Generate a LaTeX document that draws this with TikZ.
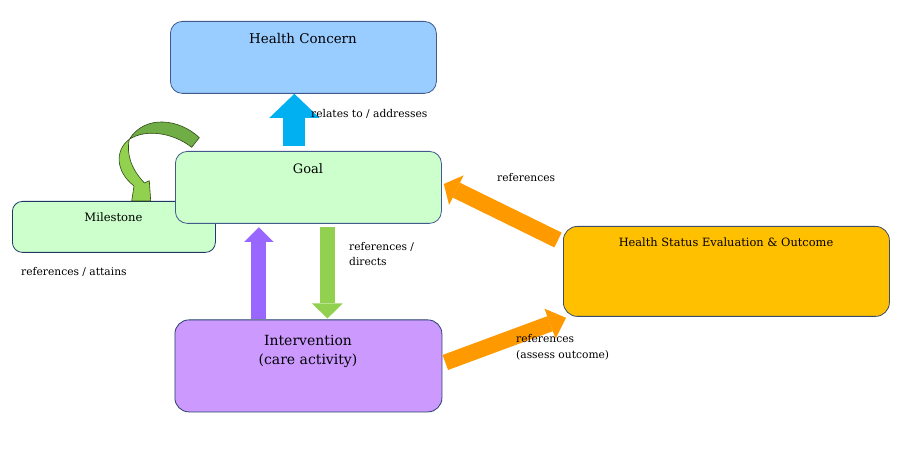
\documentclass[tikz,border=0pt]{standalone}
\usepackage{fontspec}
\setmainfont{DejaVu Serif}
\usetikzlibrary{arrows.meta,calc}
\definecolor{hcfill}{HTML}{99CCFF}
\definecolor{goalfill}{HTML}{CCFFCC}
\definecolor{intfill}{HTML}{CC99FF}
\definecolor{hsefill}{HTML}{FFC000}
\definecolor{boxline}{HTML}{41598B}
\definecolor{navy}{HTML}{1F3864}
\definecolor{arrblue}{HTML}{00B0F0}
\definecolor{arrgreen}{HTML}{92D050}
\definecolor{arrdkgreen}{HTML}{70AD47}
\definecolor{arrpurple}{HTML}{9966FF}
\definecolor{arrorange}{HTML}{FF9900}
\definecolor{curveline}{HTML}{2E4A14}
\begin{document}
\begin{tikzpicture}[x=1pt,y=-1pt,
  box/.style={draw=boxline, line width=0.8pt, rounded corners=12pt, anchor=north west, inner sep=0pt},
  boxtext/.style={anchor=base, inner sep=0pt, text=black},
  lbl/.style={inner sep=0pt, font=\fontsize{10.7}{15.3}\selectfont, text=black, align=left},
  bluearr/.style={draw=arrblue, line width=22pt, -{Triangle[width=50pt,length=24pt,line width=0pt]}},
  greenarr/.style={draw=arrgreen, line width=15.7pt, -{Triangle[width=30.6pt,length=15pt,line width=0pt]}},
  purparr/.style={draw=arrpurple, line width=15pt, -{Triangle[width=29.3pt,length=14.5pt,line width=0pt]}},
  orarrA/.style={draw=arrorange, line width=16.5pt, -{Triangle[width=33pt,length=14pt,line width=0pt]}},
  orarrB/.style={draw=arrorange, line width=16pt, -{Triangle[width=32pt,length=17pt,line width=0pt]}},
  curve/.style={draw=curveline, line width=0.6pt, line join=round}
  ]
\useasboundingbox[fill=white] (0,0) rectangle (900,454);

% boxes
\node[box, fill=hcfill, minimum width=266pt, minimum height=72pt] (hc) at (170,21) {};
\node[box, fill=goalfill, draw=navy, minimum width=203pt, minimum height=51pt, rounded corners=10pt] (ms) at (12,201) {};

% curved arrow Goal -> Milestone
\path[curve, fill=arrgreen] (129.3,139.3) .. controls (115,150) and (115,171) .. (134,186)
  -- (131.7,201) -- (150.7,201) -- (149.3,180.7) -- (144.5,183)
  .. controls (132,170) and (126,155) .. (129.3,139.3) -- cycle;
\path[curve, fill=arrdkgreen] (199.3,137.7) .. controls (180,119) and (145,114) .. (129.3,139.3)
  .. controls (145,129) and (172,132) .. (191.7,147.3) -- cycle;

\node[box, fill=goalfill, minimum width=266pt, minimum height=72pt] (goal) at (175,151) {};
\node[box, fill=intfill, draw=navy!80!boxline, minimum width=267pt, minimum height=92pt, rounded corners=14pt] (int) at (174.5,319.5) {};
\node[box, fill=hsefill, draw=navy!70!gray, minimum width=326pt, minimum height=90pt, rounded corners=14pt] (hse) at (563,226) {};

% box texts
\node[boxtext, font=\fontsize{13.4}{16}\selectfont] (hct) at (303,44) {Health Concern};
\node[boxtext, font=\fontsize{13}{16}\selectfont] (goalt) at (308,174) {Goal};
\node[boxtext, font=\fontsize{11.6}{14}\selectfont] (mst) at (113.5,221.7) {Milestone};
\node[boxtext, font=\fontsize{11.4}{14}\selectfont] (hset) at (726,246.7) {Health Status Evaluation \& Outcome};
\node[boxtext, font=\fontsize{14}{18.6}\selectfont] (intt1) at (308,345.7) {Intervention};
\node[boxtext, font=\fontsize{14}{18.6}\selectfont] (intt2) at (308,364.3) {(care activity)};

% block arrows
\draw[bluearr] ([xshift=-14pt,yshift=5pt]goal.north) -- ([xshift=-9pt]hc.south);
\draw[greenarr] ([xshift=19pt,yshift=-3.5pt]goal.south) -- ([xshift=19pt,yshift=1pt]int.north);
\draw[purparr] ([xshift=-49.5pt]int.north) -- ([xshift=-49.5pt,yshift=-3.5pt]goal.south);
\draw[orarrA] ($(hse.north west)+(-5,14)$) -- ($(goal.north east)+(2,33)$);
\draw[orarrB] ($(int.north east)+(3,43)$) -- ($(hse.south west)+(3,1)$);

% labels
\node[lbl, anchor=base west] (l1) at (311,118) {relates to / addresses};
\node[lbl, anchor=north west] (l2) at (349,242) {references /\\directs};
\node[lbl, anchor=base west] (l3) at (21,276) {references / attains};
\node[lbl, anchor=base west] (l4) at (497,182) {references};
\node[lbl, anchor=north west] (l5) at (516,334.6) {references\\(assess outcome)};
\end{tikzpicture}
\end{document}
